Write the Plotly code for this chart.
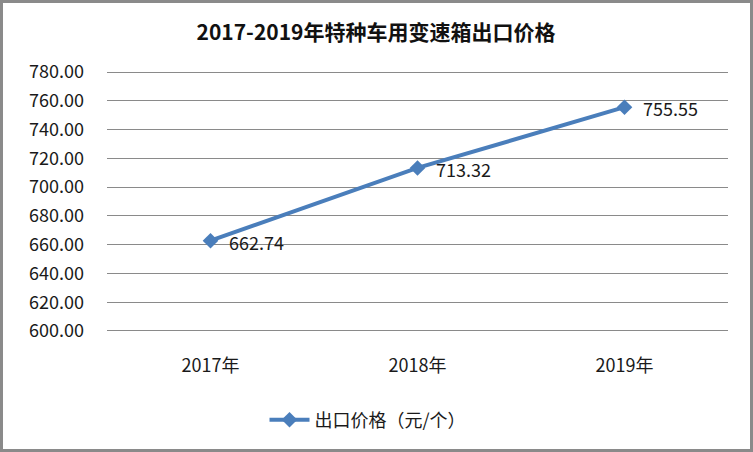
import plotly.graph_objects as go

years = ["2017年", "2018年", "2019年"]
prices = [662.74, 713.32, 755.55]
series_name = "出口价格（元/个）"
title_text = "2017-2019年特种车用变速箱出口价格"
y_ticks = [600, 620, 640, 660, 680, 700, 720, 740, 760, 780]

W, H = 753, 452
L, R, T, B = 107, 25, 70, 119
pw, ph = W - L - R, H - T - B

font = "Noto Sans CJK SC, Noto Sans, sans-serif"
color = "#4A7EBB"
tcolor = "#1a1a1a"

fig = go.Figure()
fig.add_trace(go.Scatter(
    x=years, y=prices, mode="lines+markers", name=series_name,
    line=dict(color=color, width=4),
    marker=dict(symbol="diamond", size=12, color=color),
))
for xv, yv in zip(years, prices):
    fig.add_annotation(x=xv, y=yv, text=f"{yv:.2f}", showarrow=False,
                       xanchor="left", yanchor="middle", xshift=16, yshift=-1,
                       font=dict(family=font, size=18, color=tcolor))

fig.update_layout(
    width=W, height=H,
    margin=dict(l=L, r=R, t=T, b=B),
    paper_bgcolor="white", plot_bgcolor="white",
    title=dict(text="<b>" + title_text + "</b>", x=(376) / W, xanchor="center",
               y=1 - 33 / H, yanchor="middle",
               font=dict(family=font, size=21, color="#111111")),
    showlegend=True,
    legend=dict(orientation="h", x=(368 - L) / pw, xanchor="center",
                y=-(420 - (H - B)) / ph,
                yanchor="middle", font=dict(family=font, size=18, color=tcolor),
                bgcolor="rgba(0,0,0,0)", itemwidth=40),
    xaxis=dict(showgrid=False, showline=False, zeroline=False, ticks="",
               range=[-0.5, 2.5],
               tickfont=dict(family=font, size=18, color=tcolor),
               ticklabelstandoff=20),
    yaxis=dict(range=[598.6, 781.4], tickvals=y_ticks, tickformat=".2f",
               showgrid=True, gridcolor="#8a8a8a", gridwidth=1,
               showline=False, zeroline=False, ticks="",
               tickfont=dict(family=font, size=18, color=tcolor),
               ticklabelstandoff=22),
    shapes=[dict(type="rect", xref="paper", yref="paper",
                 x0=-(L - 1.5) / pw, x1=1 + (R - 1.5) / pw,
                 y0=-(B - 1.5) / ph, y1=1 + (T - 1.5) / ph,
                 line=dict(color="#8a8a8a", width=3), layer="below")],
)

fig.write_html("out.html", config={"displayModeBar": False},
               post_script="document.body.style.margin='0';document.body.style.overflow='hidden';")
